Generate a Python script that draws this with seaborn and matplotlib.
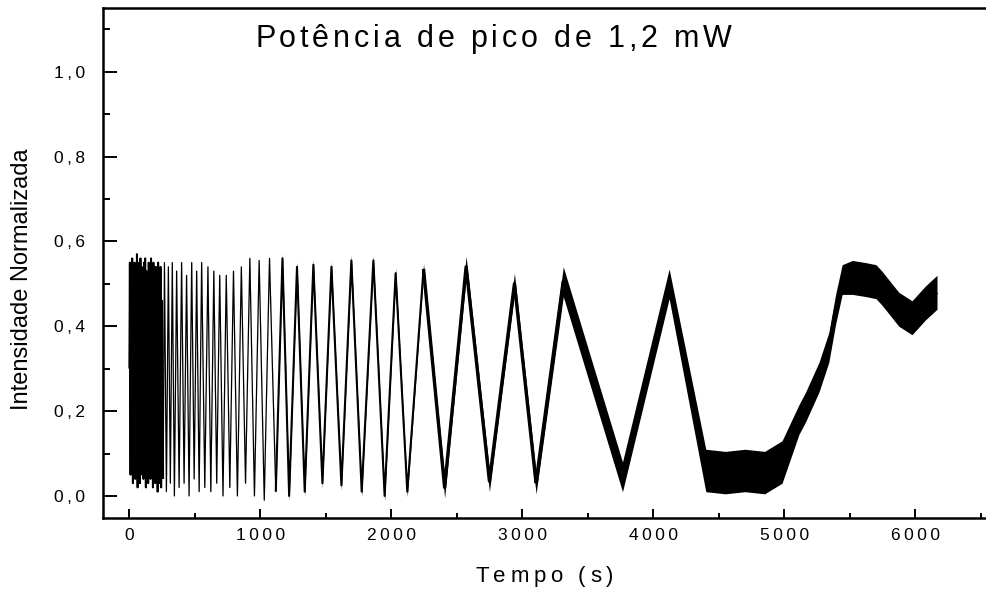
import numpy as np
import matplotlib
matplotlib.use("Agg")
import matplotlib.pyplot as plt
import seaborn as sns
from matplotlib.ticker import FixedLocator, MultipleLocator
from matplotlib import font_manager, ft2font

# ---------------- data (extrema of the signal) ----------------
# first ~250 s: very fast oscillation (looks like a solid black block)
t_dense = [0, 4, 9, 13, 18, 22, 27, 31, 36, 40, 45, 49, 54, 58, 63, 67, 72, 76, 81, 85,
           90, 94, 99, 103, 108, 112, 117, 121, 126, 130, 135, 139, 144, 148, 153, 157, 162, 166, 171, 175,
           180, 184, 189, 193, 198, 202, 207, 211, 216, 220, 225, 229, 234, 238, 243, 250, 258]
v_dense = [0.30, 0.55, 0.05, 0.53, 0.22, 0.56, 0.03, 0.40, 0.10, 0.55,
           0.04, 0.54, 0.25, 0.57, 0.02, 0.35, 0.18, 0.55, 0.03, 0.56,
           0.20, 0.54, 0.05, 0.42, 0.04, 0.55, 0.26, 0.56, 0.02, 0.53,
           0.15, 0.38, 0.03, 0.55, 0.22, 0.54, 0.04, 0.56, 0.24, 0.50,
           0.02, 0.55, 0.05, 0.36, 0.03, 0.54, 0.20, 0.52, 0.01, 0.55,
           0.28, 0.44, 0.03, 0.54, 0.02, 0.46, 0.04]
# then a thin, fast oscillation whose period grows
t_early = [268, 283, 298, 313, 328, 344, 361, 380, 399, 418, 437, 456, 476, 495, 514, 533, 552, 576, 600, 622,
           645, 667, 690, 715, 740, 767, 795, 825, 855, 887, 920, 955, 991, 1030, 1070, 1118]
v_early = [0.55, 0.01, 0.54, 0.03, 0.55, 0.00, 0.53, 0.02, 0.55, 0.03, 0.52, 0.00, 0.55, 0.04, 0.53, 0.01,
           0.55, 0.02, 0.54, 0.01, 0.53, 0.03, 0.52, 0.00, 0.52, 0.02, 0.53, 0.00, 0.54, 0.03, 0.56, 0.00,
           0.555, -0.01, 0.56, 0.01]
t_mid = [1169, 1220, 1280, 1339, 1405, 1474, 1543, 1619, 1695, 1774, 1863, 1949, 2033, 2122, 2246]
v_mid = [0.56, 0.00, 0.54, 0.01, 0.545, 0.03, 0.54, 0.025, 0.555, 0.01, 0.555, 0.00, 0.525, 0.01, 0.535]
t_slow = [2407, 2571, 2749, 2940, 3105]
v_slow = [0.02, 0.54, 0.035, 0.50, 0.03]
t_wide = [3313, 3765, 4121]
v_wide = [0.505, 0.045, 0.50]
t_floor = [4401, 4550, 4700, 4850, 4983]
v_floor = [0.06, 0.055, 0.06, 0.055, 0.08]
t_rise = [5112, 5163, 5265, 5340, 5392, 5442]
v_rise = [0.18, 0.21, 0.28, 0.35, 0.44, 0.51]
t_top = [5520, 5620, 5700, 5745, 5874, 5975, 6078, 6166]
v_top = [0.515, 0.51, 0.505, 0.49, 0.44, 0.42, 0.455, 0.48]
# half-height of the noise band in each stretch
noise_halfwidth = [0.004, 0.004, 0.012, 0.025, 0.035, 0.05, 0.035, 0.04]

xtick_values = [0, 1000, 2000, 3000, 4000, 5000, 6000]
xtick_labels = ["0", "1000", "2000", "3000", "4000", "5000", "6000"]
ytick_values = [0.0, 0.2, 0.4, 0.6, 0.8, 1.0]
ytick_labels = ["0,0", "0,2", "0,4", "0,6", "0,8", "1,0"]

title_text = "Potência de pico de 1,2 mW"
xlabel_text = "Tempo (s)"
ylabel_text = "Intensidade Normalizada"

# ---------------- figure ----------------
sns.set_theme(style="ticks")
plt.rcParams["font.family"] = ["Liberation Sans", "DejaVu Sans"]

W, H = 986, 590
fig = plt.figure(figsize=(W / 100, H / 100), dpi=100)
fig.patch.set_facecolor("white")
ax = fig.add_axes([103 / W, 1 - 518 / H, (W - 103) / W, (518 - 8) / H])
ax.set_facecolor("white")

segs_t = [t_dense, t_early, t_mid, t_slow, t_wide, t_floor, t_rise, t_top]
segs_v = [v_dense, v_early, v_mid, v_slow, v_wide, v_floor, v_rise, v_top]
seg_lw = [1.4, 0.9, 1.5, 2.4, 2.6, 2.4, 2.4, 2.4]

t = np.concatenate([np.asarray(s, float) for s in segs_t])
v = np.concatenate([np.asarray(s, float) for s in segs_v])
w = np.concatenate([np.full(len(s), hw) for s, hw in zip(segs_t, noise_halfwidth)])

ax.fill_between(t, v - w, v + w, color="black", linewidth=0)

prev_t, prev_v = None, None
for st, sv, lw in zip(segs_t, segs_v, seg_lw):
    xs = list(st) if prev_t is None else [prev_t] + list(st)
    ys = list(sv) if prev_v is None else [prev_v] + list(sv)
    sns.lineplot(x=xs, y=ys, ax=ax, color="black", linewidth=lw, estimator=None,
                 sort=False, legend=False, solid_capstyle="butt")
    prev_t, prev_v = st[-1], sv[-1]

ax.set_xlim(-201, 6540)
ax.set_ylim(-0.052, 1.150)

for side in ["left", "bottom", "top"]:
    ax.spines[side].set_visible(True)
    ax.spines[side].set_color("black")
    ax.spines[side].set_linewidth(1.8)
ax.spines["right"].set_visible(False)

def spaced(s):
    return "\u2009".join(s)

ax.xaxis.set_major_locator(FixedLocator(xtick_values))
ax.set_xticklabels([spaced(s) for s in xtick_labels])
ax.xaxis.set_minor_locator(MultipleLocator(500))
ax.yaxis.set_major_locator(FixedLocator(ytick_values))
ax.set_yticklabels([spaced(s) for s in ytick_labels])
ax.yaxis.set_minor_locator(MultipleLocator(0.1))

ax.tick_params(axis="both", which="both", direction="in", top=False, right=False,
               colors="black", labelcolor="black")
ax.tick_params(axis="y", which="major", length=10, width=1.4, pad=13, labelsize=12.5)
ax.tick_params(axis="y", which="minor", length=5, width=1.4)
ax.tick_params(axis="x", which="major", length=6.5, width=1.4, pad=7, labelsize=12.5)
ax.tick_params(axis="x", which="minor", length=3.6, width=1.4)
ax.set_xlabel("")
ax.set_ylabel("")
ax.grid(False)

# letter-spaced text drawn glyph by glyph
font_path = font_manager.findfont(font_manager.FontProperties(family="Liberation Sans"))

def letter_spaced(s, x_left, y_base, size, target_width):
    f = ft2font.FT2Font(font_path)
    f.set_size(size, 100)
    advs = [f.load_char(ord(c)).linearHoriAdvance / 65536.0 for c in s]
    extra = (target_width - sum(advs)) / (len(s) - 1)
    x = x_left
    for c, a in zip(s, advs):
        if c != " ":
            fig.text(x / W, 1 - y_base / H, c, fontsize=size, ha="left", va="baseline",
                     color="black", family="Liberation Sans")
        x += a + extra

letter_spaced(title_text, 255, 46.7, 22, 477)
letter_spaced(xlabel_text, 475, 581.7, 16, 138)
fig.text(22 / W, 1 - 279 / H, ylabel_text, rotation=90, ha="center", va="center",
         fontsize=17, color="black")

fig.savefig("out.png", dpi=100, facecolor="white")
